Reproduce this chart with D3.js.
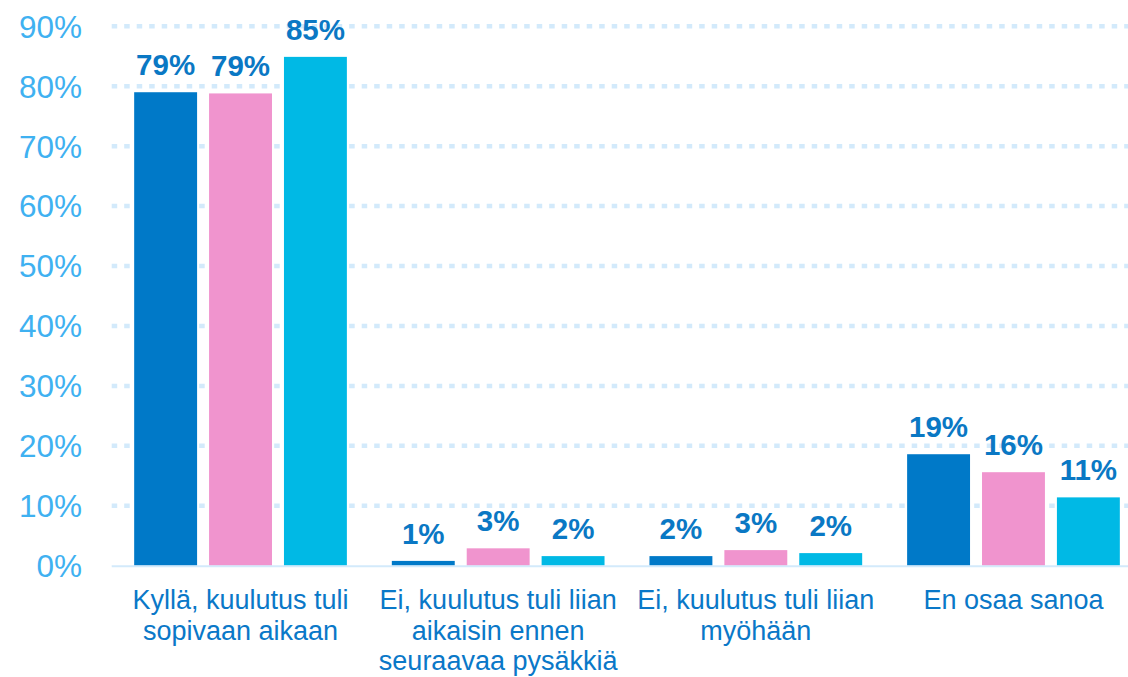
<!DOCTYPE html>
<html>
<head>
<meta charset="utf-8">
<script src="https://cdn.jsdelivr.net/npm/d3@7"></script>
<style>
  body { margin: 0; background: #fff; }
  text { font-family: "Liberation Sans", Arial, sans-serif; }
</style>
</head>
<body>
<div id="chart"></div>
<script>
// chart data
let categories = [
  "Kyllä, kuulutus tuli sopivaan aikaan",
  "Ei, kuulutus tuli liian aikaisin ennen seuraavaa pysäkkiä",
  "Ei, kuulutus tuli liian myöhään",
  "En osaa sanoa"
];
let seriesNames = ["s1", "s2", "s3"];
let seriesValues = [
  [79.0, 0.8, 1.6, 18.6],
  [78.8, 2.9, 2.6, 15.6],
  [84.9, 1.6, 2.1, 11.4]
];
let valueLabels = [
  ["79%", "1%", "2%", "19%"],
  ["79%", "3%", "3%", "16%"],
  ["85%", "2%", "2%", "11%"]
];
let yTicks = [0, 10, 20, 30, 40, 50, 60, 70, 80, 90];
let colors = ["#0079c8", "#f094ce", "#00b9e5"];

let svgWidth = 1128;
let svgHeight = 677;

let svg = d3.select("#chart")
  .append("svg")
  .attr("width", svgWidth)
  .attr("height", svgHeight);

// scales
let x = d3.scaleBand()
  .domain(categories)
  .range([111.7, 1142.3]);

let xInner = d3.scaleBand()
  .domain(seriesNames)
  .range([0, x.bandwidth()])
  .paddingInner(0.16)
  .paddingOuter(0.3);

let y = d3.scaleLinear()
  .domain([0, 90])
  .range([565.7, 26.3]);

// gridlines
svg.append("g")
  .selectAll("line")
  .data(yTicks.filter(d => d > 0))
  .enter()
  .append("line")
  .attr("x1", x.range()[0])
  .attr("x2", x.range()[1])
  .attr("y1", d => y(d))
  .attr("y2", d => y(d))
  .attr("stroke", "#d3eafb")
  .attr("stroke-width", 4.5)
  .attr("stroke-dasharray", "5.5,7");

// y tick labels
svg.append("g")
  .selectAll("text")
  .data(yTicks)
  .enter()
  .append("text")
  .attr("x", 82)
  .attr("y", d => y(d))
  .attr("dy", "0.36em")
  .attr("text-anchor", "end")
  .style("font-size", "31.5px")
  .style("fill", "#3fb1f1")
  .text(d => d + "%");

// bars
let groups = svg.append("g")
  .selectAll("g")
  .data(seriesNames)
  .enter()
  .append("g");

groups.each(function (s, si) {
  let g = d3.select(this);
  let rows = categories.map((c, ci) => ({ c: c, v: seriesValues[si][ci], label: valueLabels[si][ci] }));

  g.selectAll("rect")
    .data(rows)
    .enter()
    .append("rect")
    .attr("x", d => x(d.c) + xInner(s))
    .attr("y", d => y(d.v))
    .attr("width", xInner.bandwidth())
    .attr("height", d => y(0) - y(d.v))
    .attr("fill", colors[si]);

  g.selectAll("text")
    .data(rows)
    .enter()
    .append("text")
    .attr("x", d => x(d.c) + xInner(s) + xInner.bandwidth() / 2)
    .attr("y", d => y(d.v) - 17)
    .attr("text-anchor", "middle")
    .style("font-size", "29.5px")
    .style("font-weight", "bold")
    .style("fill", "#0a78c4")
    .text(d => d.label);
});

// baseline
svg.append("line")
  .attr("x1", x.range()[0])
  .attr("x2", x.range()[1])
  .attr("y1", y(0) + 0.5)
  .attr("y2", y(0) + 0.5)
  .attr("stroke", "#d3eafb")
  .attr("stroke-width", 2);

// category labels with wrapping
let catLabels = svg.append("g")
  .selectAll("text")
  .data(categories)
  .enter()
  .append("text")
  .attr("text-anchor", "middle")
  .style("font-size", "27px")
  .style("fill", "#0a78c8");

catLabels.each(function (c) {
  let t = d3.select(this);
  let cx = x(c) + x.bandwidth() / 2;
  let words = c.split(" ");
  let lines = [];
  let line = [];
  let probe = t.append("tspan");
  words.forEach(w => {
    line.push(w);
    probe.text(line.join(" "));
    if (probe.node().getComputedTextLength() > 254 && line.length > 1) {
      line.pop();
      lines.push(line.join(" "));
      line = [w];
    }
  });
  lines.push(line.join(" "));
  probe.remove();
  lines.forEach((l, i) => {
    t.append("tspan")
      .attr("x", cx)
      .attr("y", 609 + i * 30.5)
      .text(l);
  });
});
</script>
</body>
</html>
